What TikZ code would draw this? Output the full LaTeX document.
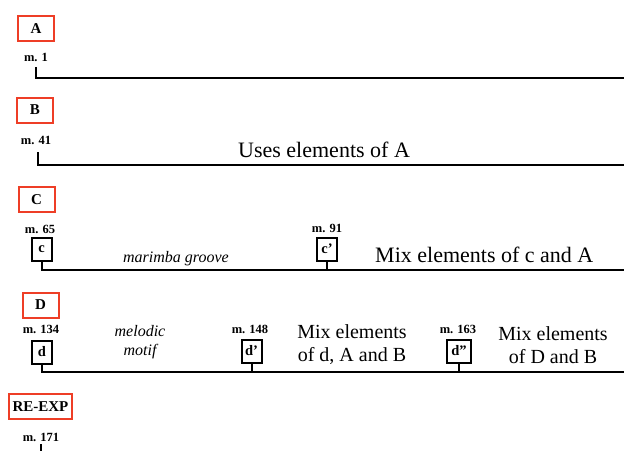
\documentclass[tikz,border=0pt]{standalone}
\usepackage{fontspec}
\setmainfont{Liberation Serif}
\definecolor{seclabel}{RGB}{238,62,38}
\tikzset{
  x=1pt, y=-1pt,
  section/.style={draw=seclabel, line width=2pt, inner xsep=4pt, inner ysep=0pt,
    minimum width=36pt, minimum height=25pt, font=\fontsize{15}{15}\selectfont\bfseries},
  measure/.style={inner sep=0pt, font=\fontsize{12.5}{13}\selectfont\bfseries},
  motif/.style={draw, line width=2pt, inner sep=0pt, minimum width=20pt,
    minimum height=23pt, font=\fontsize{14.5}{14.5}\selectfont\bfseries},
  timeline/.style={line width=2pt},
  remark/.style={inner sep=0pt, anchor=base west, font=\fontsize{22}{25}\selectfont},
  remark2/.style={inner sep=0pt, align=center, font=\fontsize{20}{23}\selectfont},
  gloss/.style={inner sep=0pt, align=center, font=\fontsize{16}{19}\selectfont\itshape}
}
\begin{document}
\begin{tikzpicture}
\useasboundingbox (0,0) rectangle (624,451);

% Section A
\node[section] (secA) at (36,28.5) {A};
\node[measure] (mA) at (36,57) {m. 1};
\coordinate (tA) at (36,67);
\coordinate (eA) at (624,78);
\draw[timeline] (tA) |- (eA);

% Section B
\node[section] (secB) at (35,110) {B};
\node[measure] (mB) at (36,140) {m. 41};
\coordinate (tB) at (38,152);
\coordinate (eB) at (624,164.5);
\draw[timeline] (tB) |- (eB);
\node[remark] (rB) at (238,157) {Uses elements of A};

% Section C
\node[section] (secC) at (36.5,199.5) {C};
\node[measure] (mC) at (40,229) {m. 65};
\node[motif] (c1) at (41.5,249.5) {c};
\coordinate (eC) at (624,270);
\draw[timeline] (c1.south) |- (eC);
\node[gloss, anchor=base] (gC) at (176,262) {marimba groove};
\node[measure] (mC2) at (327,228) {m. 91};
\node[motif] (c2) at (327,249) {c’};
\draw[timeline] (c2.south) -- (c2.south |- eC);
\node[remark] (rC) at (375,262) {Mix elements of c and A};

% Section D
\node[section] (secD) at (40.5,305) {D};
\node[measure] (mD) at (41,329) {m. 134};
\node[motif] (d1) at (42,352) {d};
\coordinate (eD) at (624,372);
\draw[timeline] (d1.south) |- (eD);
\node[gloss] (gD) at (140,342.5) {melodic\\motif};
\node[measure] (mD2) at (250,329) {m. 148};
\node[motif] (d2) at (251.5,351) {d’};
\draw[timeline] (d2.south) -- (d2.south |- eD);
\node[remark2] (rD1) at (352,345) {Mix elements\\of d, A and B};
\node[measure] (mD3) at (458,329) {m. 163};
\node[motif, minimum width=24pt] (d3) at (459,351) {d”};
\draw[timeline] (d3.south) -- (d3.south |- eD);
\node[remark2] (rD2) at (553,345) {Mix elements\\of D and B};

% Re-exposition
\node[section] (secR) at (40.5,406.5) {RE-EXP};
\node[measure] (mR) at (41,437) {m. 171};
\coordinate (tR) at (41,444);
\coordinate (eR) at (41,451);
\draw[timeline] (tR) -- (eR);
\end{tikzpicture}
\end{document}
